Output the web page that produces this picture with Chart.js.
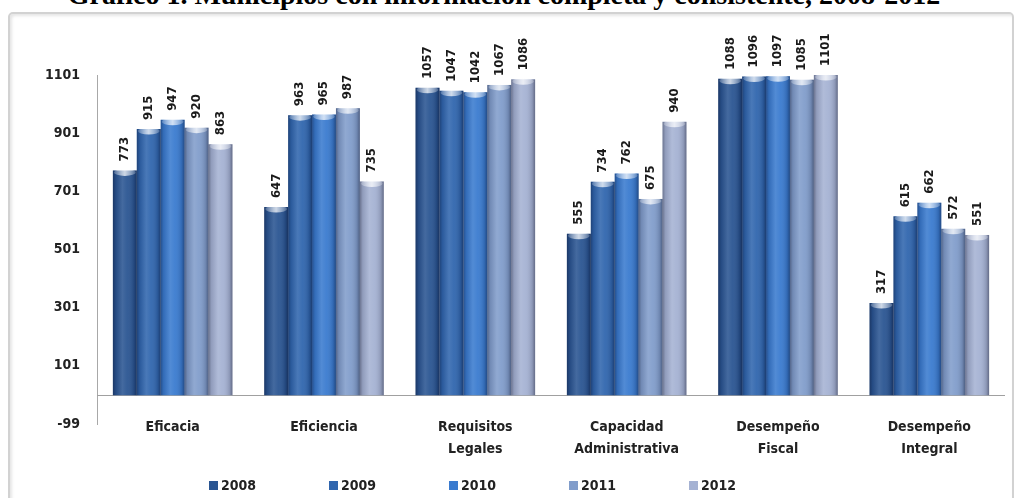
<!DOCTYPE html>
<html><head><meta charset="utf-8">
<script src="https://cdn.jsdelivr.net/npm/chart.js@4.4.1/dist/chart.umd.min.js"></script>
<style>
html,body{margin:0;padding:0;background:#fff;}
body{width:1018px;height:498px;overflow:hidden;position:relative;}
#title{position:absolute;left:0;top:-19px;width:1008px;text-align:center;white-space:nowrap;
  font:bold 28px/28px "Liberation Serif","Times New Roman",serif;color:#000;}
#frame{position:absolute;left:8px;top:12px;width:1002px;height:495px;border:2px solid #d2d2d2;border-radius:5px;
  box-shadow:inset 2px 2px 3px #e6e6e6;}
#c{position:absolute;left:0;top:0;}
#legend{position:absolute;left:0;top:477px;width:1018px;display:flex;justify-content:center;
  font:bold 14px "Liberation Sans Narrow","DejaVu Sans Condensed","Liberation Sans",sans-serif;color:#222;}
#legend .it{display:flex;align-items:center;width:120px;}
#legend .bx{width:9px;height:9px;margin-right:3px;}
</style></head>
<body>
<div id="title">Gráfico 1. Municipios con información completa y consistente, 2008-2012</div>
<div id="frame"></div>
<canvas id="c" width="1018" height="498"></canvas>
<div id="legend"></div>
<script>
const categories = ["Eficacia", "Eficiencia", ["Requisitos", "Legales"], ["Capacidad", "Administrativa"], ["Desempeño", "Fiscal"], ["Desempeño", "Integral"]];
const years = ["2008", "2009", "2010", "2011", "2012"];
const values2008 = [773, 647, 1057, 555, 1088, 317];
const values2009 = [915, 963, 1047, 734, 1096, 615];
const values2010 = [947, 965, 1042, 762, 1097, 662];
const values2011 = [920, 987, 1067, 675, 1085, 572];
const values2012 = [863, 735, 1086, 940, 1101, 551];
const yTicks = [-99, 101, 301, 501, 701, 901, 1101];
const colors = ["#2a5592", "#3066ae", "#3a7bcf", "#819dcb", "#a5b2d3"];

const FONT = '"Liberation Sans Narrow","DejaVu Sans Condensed","Liberation Sans",sans-serif';
const series = [values2008, values2009, values2010, values2011, values2012];

const cylinder = {
  id: 'cylinder',
  beforeDatasetsDraw(chart) {
    const {ctx, chartArea} = chart;
    const y0 = chart.scales.y.getPixelForValue(0);
    ctx.save();
    ctx.strokeStyle = '#a0a0a0';
    ctx.lineWidth = 1;
    ctx.beginPath();
    ctx.moveTo(chartArea.left, Math.round(y0) + 0.5);
    ctx.lineTo(chartArea.right, Math.round(y0) + 0.5);
    ctx.stroke();
    ctx.restore();
  },
  afterDatasetsDraw(chart) {
    const {ctx} = chart;
    ctx.save();
    chart.data.datasets.forEach((ds, di) => {
      const meta = chart.getDatasetMeta(di);
      meta.data.forEach((bar, i) => {
        const w = bar.width, l = bar.x - w / 2, top = bar.y, base = bar.base;
        const g = ctx.createLinearGradient(l, 0, l + w, 0);
        g.addColorStop(0, 'rgba(0,0,20,0.35)');
        g.addColorStop(0.12, 'rgba(0,0,20,0.12)');
        g.addColorStop(0.4, 'rgba(255,255,255,0.12)');
        g.addColorStop(0.6, 'rgba(255,255,255,0.05)');
        g.addColorStop(0.88, 'rgba(0,0,20,0.15)');
        g.addColorStop(1, 'rgba(0,0,20,0.4)');
        ctx.fillStyle = g;
        ctx.fillRect(l, top, w, base - top);
        const cg = ctx.createLinearGradient(l, 0, l + w, 0);
        cg.addColorStop(0, 'rgba(255,255,255,0.15)');
        cg.addColorStop(0.5, 'rgba(255,255,255,0.75)');
        cg.addColorStop(1, 'rgba(255,255,255,0.15)');
        ctx.fillStyle = cg;
        ctx.beginPath();
        ctx.ellipse(bar.x, top + 2, w / 2 - 1, 3.5, 0, 0, Math.PI * 2);
        ctx.fill();
        ctx.save();
        ctx.translate(bar.x, top - 9);
        ctx.rotate(-Math.PI / 2);
        ctx.fillStyle = '#1a1a1a';
        ctx.font = 'bold 13px ' + FONT;
        ctx.textAlign = 'left';
        ctx.textBaseline = 'middle';
        ctx.fillText(String(ds.data[i]), 0, 0);
        ctx.restore();
      });
    });
    ctx.restore();
  },
  afterDraw(chart) {
    const {ctx} = chart;
    const xs = chart.scales.x, ys = chart.scales.y;
    const yb = ys.getPixelForValue(ys.min);
    ctx.save();
    ctx.fillStyle = '#222';
    ctx.font = 'bold 14px ' + FONT;
    ctx.textAlign = 'center';
    ctx.textBaseline = 'middle';
    chart.data.labels.forEach((lab, i) => {
      const lines = Array.isArray(lab) ? lab : [lab];
      const x = xs.getPixelForValue(i);
      lines.forEach((t, k) => ctx.fillText(t, x, yb + 3 + k * 22));
    });
    ctx.restore();
  }
};

new Chart(document.getElementById('c'), {
  type: 'bar',
  data: {
    labels: categories,
    datasets: years.map((y, i) => ({
      label: y,
      data: series[i],
      backgroundColor: colors[i],
      borderWidth: 0,
      categoryPercentage: 0.79,
      barPercentage: 1.0
    }))
  },
  options: {
    responsive: false,
    animation: false,
    layout: {padding: {left: 28, right: 13, top: 75, bottom: 24}},
    plugins: {legend: {display: false}, tooltip: {enabled: false}},
    scales: {
      y: {
        min: -99, max: 1101,
        afterBuildTicks: s => { s.ticks = yTicks.map(v => ({value: v})); },
        afterFit: s => { s.width = 69; },
        grid: {display: false},
        border: {display: true, color: '#a8a8a8', width: 1},
        ticks: {color: '#222', padding: 9, callback: v => String(v),
          font: {family: FONT, size: 14, weight: 'bold'}}
      },
      x: {
        grid: {display: false},
        border: {display: false},
        afterFit: s => { s.height = 50; },
        ticks: {display: false}
      }
    }
  },
  plugins: [cylinder]
});

const lg = document.getElementById('legend');
years.forEach((y, i) => {
  const it = document.createElement('div'); it.className = 'it';
  const bx = document.createElement('span'); bx.className = 'bx'; bx.style.background = colors[i];
  const tx = document.createElement('span'); tx.textContent = y;
  it.appendChild(bx); it.appendChild(tx); lg.appendChild(it);
});
</script>
</body></html>
